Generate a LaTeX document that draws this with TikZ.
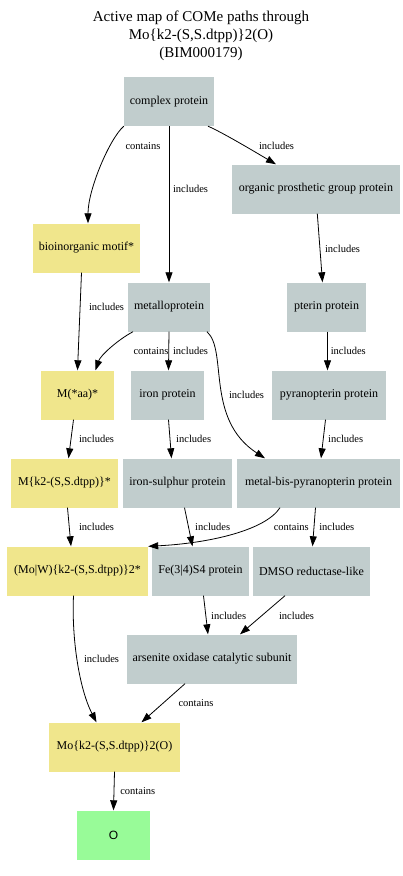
\documentclass[tikz,border=0pt]{standalone}
\usepackage{fontspec}
\setmainfont{Liberation Serif}
\newfontfamily\leafsans{Liberation Sans}
\usetikzlibrary{arrows.meta}

\definecolor{protgray}{RGB}{193,205,205}
\definecolor{motifyellow}{RGB}{240,230,140}
\definecolor{leafgreen}{RGB}{152,251,152}

\tikzset{
  box/.style={inner sep=0pt, minimum height=49pt, font=\fontsize{12}{14}\selectfont},
  prot/.style={box, fill=protgray},
  motif/.style={box, fill=motifyellow},
  leaf/.style={box, fill=leafgreen, font=\leafsans\fontsize{12}{14}\selectfont},
  lbl/.style={inner sep=0pt, font=\fontsize{10.5}{12}\selectfont},
  link/.style={->, line width=0.8pt},
  >={Triangle[length=10pt,width=7pt]}
}

\begin{document}
\begin{tikzpicture}[x=1pt,y=-1pt]
        \useasboundingbox (0,0) rectangle (402,876);

        % Title
        \node[align=center, font=\fontsize{15}{18}\selectfont] (title) at (201,36)
            {Active map of COMe paths through\\Mo\{k2-(S,S.dtpp)\}2(O)\\(BIM000179)};

        % Proteins
        \node[prot, minimum width=90pt]  (cplx)   at (169,101.5) {complex protein};
        \node[prot, minimum width=168pt] (org)    at (316,189)   {organic prosthetic group protein};
        \node[prot, minimum width=82pt]  (metal)  at (169,307)   {metalloprotein};
        \node[prot, minimum width=79pt]  (pterin) at (326.5,307) {pterin protein};
        \node[prot, minimum width=73pt]  (iron)   at (167.5,395) {iron protein};
        \node[prot, minimum width=114pt] (pyran)  at (329,395)   {pyranopterin protein};
        \node[prot, minimum width=109pt] (fes)    at (177.5,483) {iron-sulphur protein};
        \node[prot, minimum width=163pt] (mbp)    at (318.5,483) {metal-bis-pyranopterin protein};
        \node[prot, minimum width=97pt]  (fe34)   at (200.5,571) {Fe(3|4)S4 protein};
        \node[prot, minimum width=117pt] (dmso)   at (311.5,571) {DMSO reductase-like};
        \node[prot, minimum width=170pt] (arsen)  at (212,659)   {arsenite oxidase catalytic subunit};

        % Motifs
        \node[motif, minimum width=107pt] (bio) at (86.5,248)  {bioinorganic motif*};
        \node[motif, minimum width=73pt]  (maa) at (77.5,395)  {M(*aa)*};
        \node[motif, minimum width=107pt] (mk2) at (64.5,483)  {M\{k2-(S,S.dtpp)\}*};
        \node[motif, minimum width=141pt] (mow) at (77.5,571)  {(Mo|W)\{k2-(S,S.dtpp)\}2*};
        \node[motif, minimum width=131pt] (moo) at (114.5,747) {Mo\{k2-(S,S.dtpp)\}2(O)};

        % Leaf
        \node[leaf, minimum width=73pt] (oxy) at (113.5,835) {O};

        % Links
        \draw[link] (cplx.south west) .. controls +(-14,12) and +(0,-34) .. ([xshift=1.5pt]bio.north);
        \draw[link] (cplx.south) -- (metal.north);
        \draw[link] ([xshift=39pt]cplx.south) .. controls +(14,6) and +(-22,-13) .. ([xshift=-40pt]org.north);
        \draw[link] ([xshift=1.3pt]org.south) -- ([xshift=-4pt]pterin.north);
        \draw[link] ([xshift=-5pt]bio.south) -- (maa.north);
        \draw[link] ([xshift=-36pt]metal.south) .. controls +(-15,8) and +(5,-15) .. ([xshift=18pt]maa.north);
        \draw[link] (metal.south) -- ([xshift=1pt]iron.north);
        \draw[link] ([xshift=38pt]metal.south) .. controls +(21,19) and +(-60,-39) .. ([xshift=-53.5pt]mbp.north);
        \draw[link] ([xshift=1pt]pterin.south) -- ([xshift=-1.5pt]pyran.north);
        \draw[link] ([xshift=-4pt]maa.south) -- ([xshift=4pt]mk2.north);
        \draw[link] ([xshift=1pt]iron.south) -- ([xshift=-6pt]fes.north);
        \draw[link] ([xshift=-3.5pt]pyran.south) -- ([xshift=2.5pt]mbp.north);
        \draw[link] ([xshift=3pt]mk2.south) -- ([xshift=-6.5pt]mow.north);
        \draw[link] ([xshift=7pt]fes.south) -- ([xshift=-8pt]fe34.north);
        \draw[link] ([xshift=-38.5pt]mbp.south) .. controls +(-15,23) and +(60,-3) .. (mow.north east);
        \draw[link] ([xshift=-3pt]mbp.south) -- ([xshift=1pt]dmso.north);
        \draw[link] ([xshift=-4pt]mow.south) .. controls +(-2,44) and +(-17,-33) .. ([xshift=-18pt]moo.north);
        \draw[link] ([xshift=3pt]fe34.south) -- ([xshift=-4pt]arsen.north);
        \draw[link] ([xshift=-26.5pt]dmso.south) -- ([xshift=28pt]arsen.north);
        \draw[link] ([xshift=-27pt]arsen.south) -- ([xshift=27pt]moo.north);
        \draw[link] (moo.south) -- (oxy.north);

        % Link labels
        \node[lbl] (l1)  at (143,146)   {contains};
        \node[lbl] (l2)  at (190.5,189) {includes};
        \node[lbl] (l3)  at (276.5,146) {includes};
        \node[lbl] (l4)  at (342.5,248.5) {includes};
        \node[lbl] (l5)  at (106.5,307) {includes};
        \node[lbl] (l6)  at (151,351.3) {contains};
        \node[lbl] (l7)  at (190.5,351.3) {includes};
        \node[lbl] (l8)  at (246.5,395.3) {includes};
        \node[lbl] (l9)  at (348.3,351.3) {includes};
        \node[lbl] (l10) at (96.5,439.3) {includes};
        \node[lbl] (l11) at (193.7,439.3) {includes};
        \node[lbl] (l12) at (345.7,439.3) {includes};
        \node[lbl] (l13) at (96.5,527.3) {includes};
        \node[lbl] (l14) at (212.7,527.3) {includes};
        \node[lbl] (l15) at (291.3,527.3) {contains};
        \node[lbl] (l16) at (336.8,527.3) {includes};
        \node[lbl] (l17) at (101.5,659) {includes};
        \node[lbl] (l18) at (228.7,615.7) {includes};
        \node[lbl] (l19) at (296.5,615.7) {includes};
        \node[lbl] (l20) at (196,703.3) {contains};
        \node[lbl] (l21) at (137.8,791.3) {contains};

\end{tikzpicture}
\end{document}
